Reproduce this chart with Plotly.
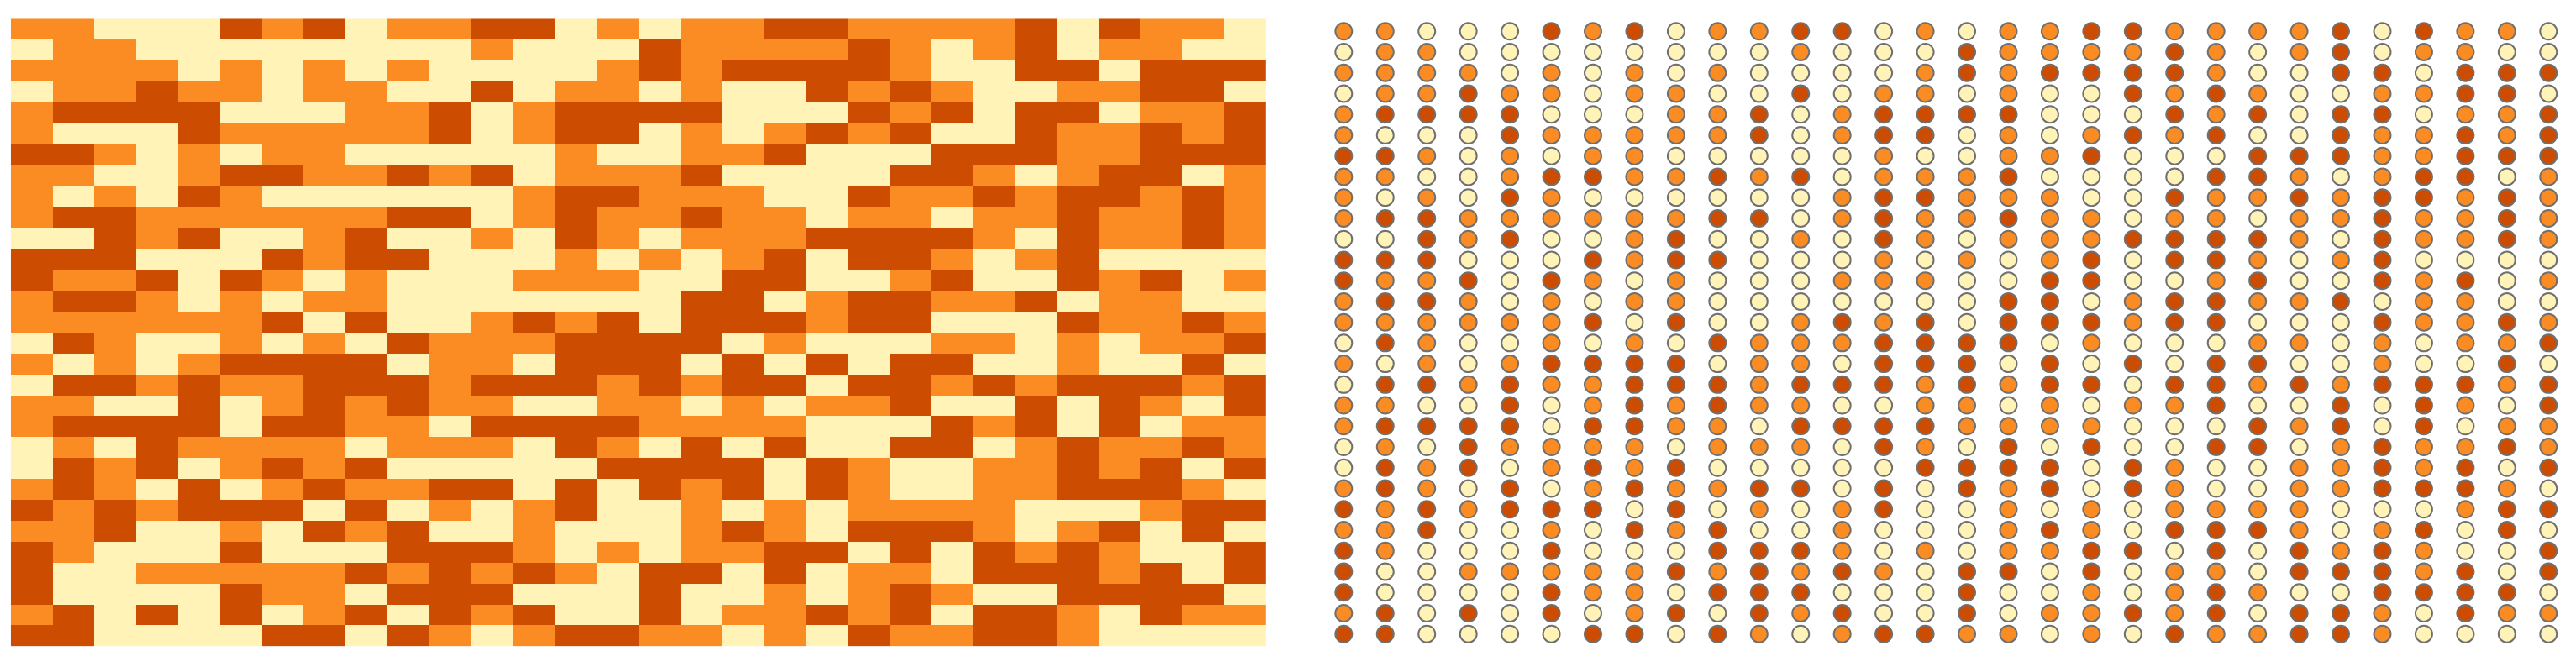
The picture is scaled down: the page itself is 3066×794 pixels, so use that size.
import plotly.graph_objects as go

CREAM, ORANGE, DARK = "#FFF3B8", "#FA8C23", "#CC4C02"
levels = {"C": 0, "O": 1, "D": 2}

row_00 = "O O C C C D O D C O O D D C O C O O D D O O O O D C D O O C"
row_01 = "C O O C C C C C C C C O C C C D O O O O D O C O D C O O C C"
row_02 = "O O O O C O C O C O C C C C O D O D D D D O C C D D C D D D"
row_03 = "C O O D O O C O O C C D C O O C O C C D O D O C C O O D D C"
row_04 = "O D D D D C C C O O D C O D D D D C C C D O D C D D C O O D"
row_05 = "O C C C D O O O O O D C O D D C O C O D O D C C D O O D O D"
row_06 = "D D O C O C O O C C C C C O C C O O D C C C D D D O O D D D"
row_07 = "O O C C O D D O O D O D C O O O D C C C C D D O C O D D C O"
row_08 = "O C O C D O C C C C C C O D D O O O C C D O O D O D D O D O"
row_09 = "O D D O O O O O O D D C O D O O D O O C O O C O O D O O D O"
row_10 = "C C D O D C C O D C C O C D O C O O O D D D D O C D O O D O"
row_11 = "D D D C C C D O D D C C C O C O C O D C D D O C O D C C C C"
row_12 = "D O O D C D O C O C C C O O O C C D D C C O D C C D O D C O"
row_13 = "O D D O C O C O O C C C C C C C D D C O D D O O D C O O C C"
row_14 = "O O O O O O D C D C C O D O D C D D D O D D C C C D O O D O"
row_15 = "C D O C C O C O C D O O O D D D D C O C C C O O C O C O O D"
row_16 = "O C O C O D D D D C O O C D D D C D C D C D D C C O C C D C"
row_17 = "C D D O D O O D D D O D D D O D O D D C D D O D O D D D O D"
row_18 = "O O C C D C O D O D O O C C O O C O C O O D C C D C D O C D"
row_19 = "O D D D D C D D O O C D D D D O O O O C C C D O D C D C O O"
row_20 = "C O C D O O O O C O O O C D O C D C D C C D D C O D O O D O"
row_21 = "C D O D C O D O D C C C C C D D D D C D O C C O O D O D C D"
row_22 = "O D O C D C O D O O D D C D C D O D C D O C C O O D D D O C"
row_23 = "D O D O D D D C D C O C O D C C O C O C O O O O C C C O D D"
row_24 = "O O D C C O C D O D C C O C C C O D O C D D D O C O D C D C"
row_25 = "D O C C C D C C C D D D O C O C O O D D C D C D O D O C C D"
row_26 = "D C C O O O O O D O D O D O C D D C D C O O C D D D O D C D"
row_27 = "D C C C C D O O C D D D C C C D C C O C O D O C C D D D D C"
row_28 = "O D C D C D C O D C D O D C C D C O O D O D C D D O C D O O"
row_29 = "D D C C C C D D C D O C O D D O O C O C D O O D D O C C C C"

rows = [row_00, row_01, row_02, row_03, row_04, row_05, row_06, row_07, row_08, row_09,
        row_10, row_11, row_12, row_13, row_14, row_15, row_16, row_17, row_18, row_19,
        row_20, row_21, row_22, row_23, row_24, row_25, row_26, row_27, row_28, row_29]
z = [[levels[c] for c in r.split()] for r in rows]

# Figure sits inside the page's default 8px body margin
W, H, PAD = 3066, 794, 8
fw, fh = W - 2 * PAD, H - 2 * PAD
def xdom(a, b):
    return [(a - PAD) / fw, (b - PAD) / fw]
def ydom(top, bottom):
    return [1 - (bottom - PAD) / fh, 1 - (top - PAD) / fh]

nrow, ncol = len(z), len(z[0])
colors = [CREAM, ORANGE, DARK]

fig = go.Figure()
fig.add_trace(go.Heatmap(
    z=z, zmin=0, zmax=2, showscale=False, xgap=0, ygap=0,
    colorscale=[[0, CREAM], [0.3333, CREAM], [0.3333, ORANGE], [0.6667, ORANGE], [0.6667, DARK], [1, DARK]],
    xaxis="x", yaxis="y", hoverinfo="skip"))
fig.add_trace(go.Scatter(
    x=[j for i in range(nrow) for j in range(ncol)],
    y=[i for i in range(nrow) for j in range(ncol)],
    mode="markers", xaxis="x2", yaxis="y2", hoverinfo="skip",
    marker=dict(size=20, color=[colors[v] for r in z for v in r],
                line=dict(color="#707070", width=2))))

axis = dict(showgrid=False, zeroline=False, showticklabels=False, ticks="", showline=False)
fig.update_layout(
    width=fw, height=fh, margin=dict(l=0, r=0, t=0, b=0), showlegend=False,
    paper_bgcolor="white", plot_bgcolor="white",
    xaxis=dict(domain=xdom(12.8, 1507), range=[-0.5, ncol - 0.5], **axis),
    yaxis=dict(domain=ydom(22.3, 769.5), range=[nrow - 0.5, -0.5], **axis),
    xaxis2=dict(domain=xdom(1574.6, 3058), range=[-0.5, ncol - 0.5], anchor="y2", **axis),
    yaxis2=dict(domain=ydom(24.9, 767.1), range=[nrow - 0.5, -0.5], anchor="x2", **axis),
)
fig.write_html("out.html")
